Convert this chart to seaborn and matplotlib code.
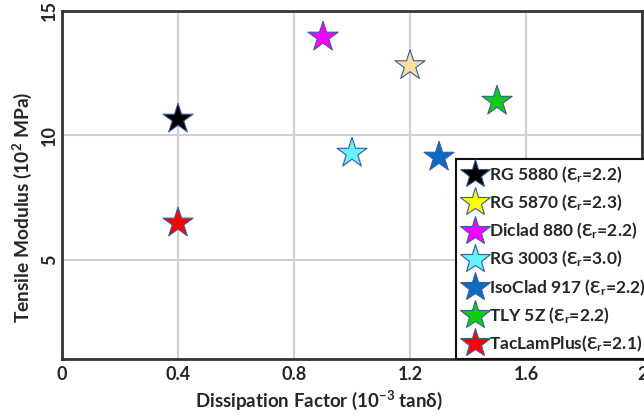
import matplotlib
matplotlib.use("Agg")
import matplotlib.pyplot as plt
import seaborn as sns
import pandas as pd
from matplotlib.lines import Line2D

materials = ["RG 5880", "RG 5870", "Diclad 880", "RG 3003", "IsoClad 917", "TLY 5Z", "TacLamPlus"]
eps_r = ["2.2", "2.3", "2.2", "3.0", "2.2", "2.2", "2.1"]
dissipation = [0.40, 1.20, 0.90, 1.00, 1.30, 1.50, 0.40]
modulus = [10.65, 12.8, 13.95, 9.28, 9.12, 11.37, 6.47]
plot_colors = ["#000000", "#F7DFA0", "#FF00FF", "#66F2FF", "#0A6CC4", "#11CC11", "#FF0000"]
legend_colors = ["#000000", "#FFFF00", "#FF00FF", "#66F2FF", "#0A6CC4", "#11CC11", "#FF0000"]
x_ticks = [0, 0.4, 0.8, 1.2, 1.6, 2]
x_labels = ["0", "0.4", "0.8", "1.2", "1.6", "2"]
y_ticks = [5, 10, 15]

sns.set_style("white")
plt.rcParams['font.family'] = ['Lato', 'DejaVu Sans']
plt.rcParams['font.weight'] = 'bold'
plt.rcParams['mathtext.fontset'] = 'custom'
plt.rcParams['mathtext.rm'] = 'Lato:bold'
plt.rcParams['mathtext.bf'] = 'Lato:bold'
plt.rcParams['mathtext.it'] = 'Lato:bold'

df = pd.DataFrame({"material": materials, "x": dissipation, "y": modulus})

fig = plt.figure(figsize=(6.44, 4.16), dpi=100)
ax = fig.add_axes([0.0963, 0.137, 0.9007, 0.8366])

sns.scatterplot(data=df, x="x", y="y", hue="material", palette=dict(zip(materials, plot_colors)),
                marker="*", s=520, edgecolor="#3A5A9C", linewidth=0.8, ax=ax, legend=False, zorder=3)

ax.set_xlim(0, 2)
ax.set_ylim(1, 15)
ax.set_xticks(x_ticks)
ax.set_xticklabels(x_labels)
ax.set_yticks(y_ticks)
ax.set_yticklabels([str(v) for v in y_ticks], rotation=90, va="center")
ax.grid(True, color="#D0D0D0", linewidth=1.5)
ax.set_axisbelow(True)
for sp in ax.spines.values():
    sp.set_color("#333333")
    sp.set_linewidth(2)
ax.tick_params(axis="both", direction="in", length=5, width=1.5, color="#333333",
               labelsize=13)
ax.tick_params(axis="y", pad=3)
ax.tick_params(axis="x", pad=5)
for lab in ax.get_xticklabels() + ax.get_yticklabels():
    lab.set_fontweight("bold")

ax.set_xlabel("Dissipation Factor (10$^{-3}$ tanδ)", fontsize=13.5, fontweight="bold")
ax.set_ylabel("Tensile Modulus (10$^{2}$ MPa)", fontsize=13.8, fontweight="bold")
ax.xaxis.set_label_coords((319 - 62) / 580, -0.085)
ax.yaxis.set_label_coords((34 - 62) / 580, (359 - 207) / 348)

handles = [Line2D([], [], linestyle="none", marker="*", markersize=22, markerfacecolor=c,
                  markeredgecolor="#3A5A9C", markeredgewidth=0.8) for c in legend_colors]
labels = []
for m, e in zip(materials, eps_r):
    sep = "" if m == "TacLamPlus" else " "
    labels.append(f"{m}{sep}(Ɛ$_r$={e})")
leg = ax.legend(handles, labels, loc="lower left", bbox_to_anchor=(0.679, 0.0),
                frameon=True, fancybox=False, edgecolor="#111111", framealpha=1,
                handletextpad=0.0, handlelength=1.6, labelspacing=0.44, borderpad=0.3,
                borderaxespad=0, prop={"weight": "bold", "size": 12.5})
leg.get_frame().set_linewidth(1.5)

fig.savefig("out.png", dpi=100)
